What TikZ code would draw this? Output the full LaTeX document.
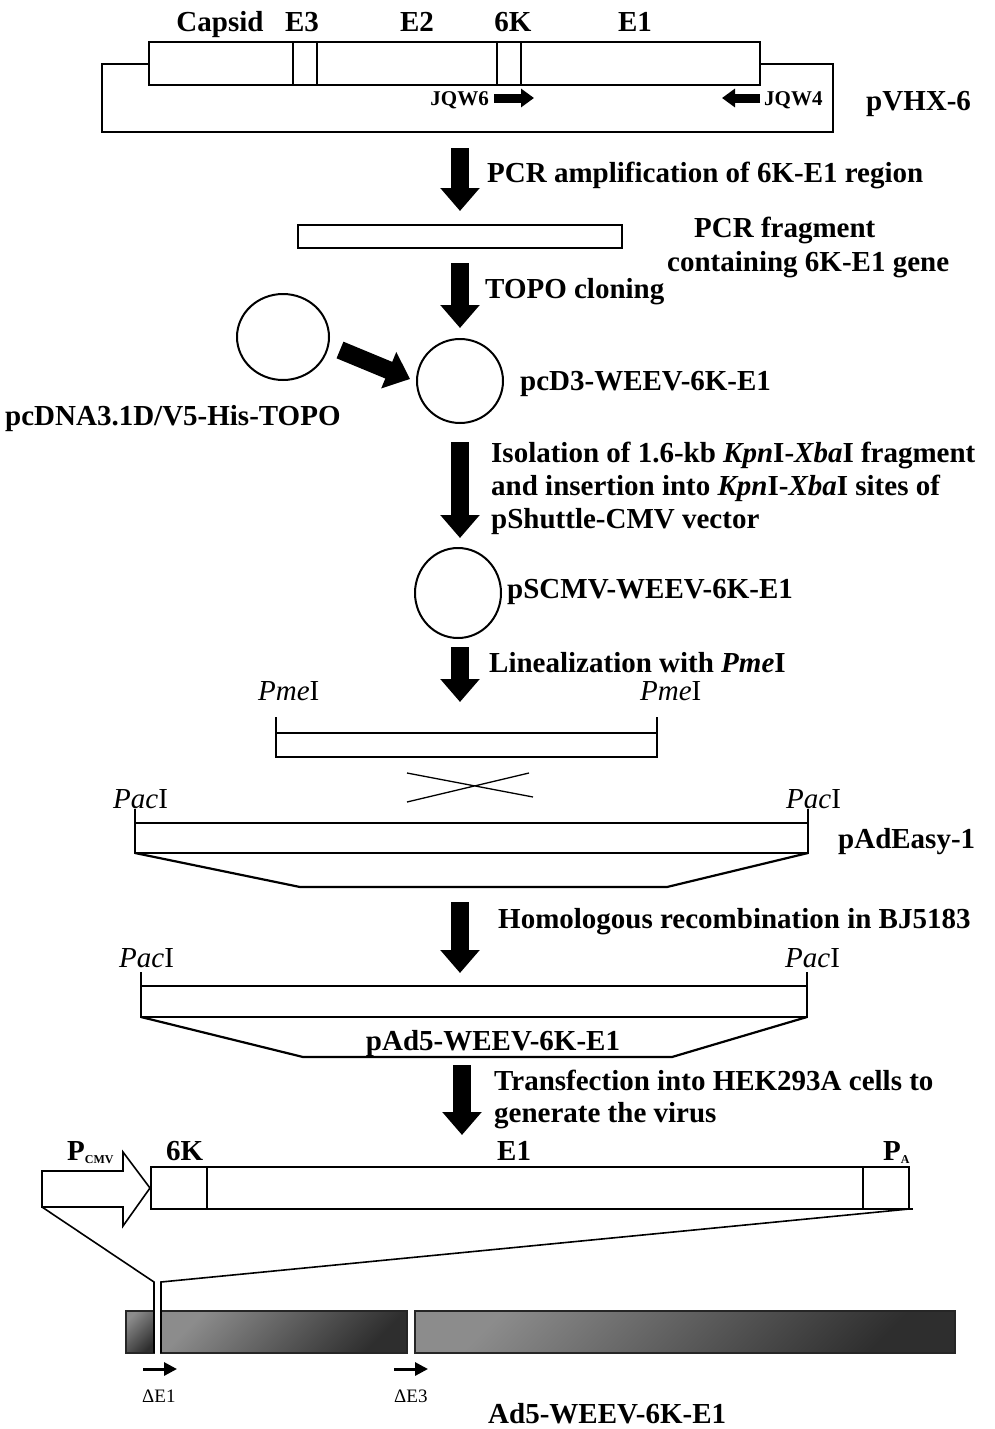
\documentclass[tikz,border=0pt]{standalone}
\usepackage{fontspec}
\setmainfont{Liberation Serif}
\usetikzlibrary{arrows.meta,shapes.geometric}
\begin{document}
\begin{tikzpicture}[x=1pt,y=-1pt,
  lbl/.style={font=\fontsize{29}{33}\selectfont\bfseries, inner sep=0pt, anchor=base west},
  clbl/.style={font=\fontsize{29}{33}\selectfont\bfseries, inner sep=0pt, anchor=base},
  sml/.style={font=\fontsize{21}{23}\selectfont\bfseries, inner sep=0pt},
  site/.style={font=\fontsize{29}{33}\selectfont, inner sep=0pt, anchor=base west},
  dlt/.style={font=\fontsize{19}{21}\selectfont, inner sep=0pt, anchor=base west},
  bigarrow/.style={line width=18pt, -{Triangle[width=38pt,length=23pt]}},
  midarrow/.style={line width=9pt, -{Triangle[width=18pt,length=13pt]}},
  tinyarrow/.style={line width=3pt, -{Triangle[width=13pt,length=13pt]}},
  box/.style={draw, line width=1.6pt, fill=white},
  ln/.style={line width=1.6pt},
  tln/.style={line width=2.2pt},
  plasmid/.style={draw, ellipse, line width=2pt, inner sep=0pt},
  bar/.style={draw=black!85, line width=1.2pt, top color=black!45, bottom color=black!82, shading angle=45}
]
\useasboundingbox (0,0) rectangle (995,1429);

% ---------- pVHX-6 ----------
\draw[ln] (102,64) rectangle (833,132);
\draw[box] (149,42) rectangle (760,85);
\draw[ln] (293,42) -- (293,85) (317,42) -- (317,85) (497,42) -- (497,85) (521,42) -- (521,85);
\node[clbl] (capsid) at (220,32) {Capsid};
\node[clbl] (le3) at (302,32) {E3};
\node[clbl] (le2) at (417,32) {E2};
\node[clbl] (l6k) at (513,32) {6K};
\node[clbl] (le1) at (635,32) {E1};
\coordinate (j6a) at (494,98); \coordinate (j6b) at (534,98);
\draw[midarrow] (j6a) -- (j6b);
\node[sml, anchor=base east] (jqw6) at (489,105) {JQW6};
\coordinate (j4a) at (760,98); \coordinate (j4b) at (722,98);
\draw[midarrow] (j4a) -- (j4b);
\node[sml, anchor=base west] (jqw4) at (764,105) {JQW4};
\node[lbl] (pvhx) at (866,110) {pVHX-6};

% ---------- PCR ----------
\coordinate (a1s) at (460,148); \coordinate (a1e) at (460,211);
\draw[bigarrow] (a1s) -- (a1e);
\node[lbl] (t1) at (487,182) {PCR amplification of 6K-E1 region};
\draw[box] (298,225) rectangle (622,248);
\node[lbl] (t2a) at (694,237) {PCR fragment};
\node[lbl] (t2b) at (667,271) {containing 6K-E1 gene};
\coordinate (a2s) at (460,263); \coordinate (a2e) at (460,328);
\draw[bigarrow] (a2s) -- (a2e);
\node[lbl] (t3) at (485,298) {TOPO cloning};

% ---------- TOPO ----------
\node[plasmid, minimum width=92pt, minimum height=86pt] (c1) at (283,337) {};
\node[plasmid, minimum width=86pt, minimum height=84pt] (c2) at (460,381) {};
\coordinate (d1) at (340,350); \coordinate (d2) at (410,379);
\draw[bigarrow] (d1) -- (d2);
\node[lbl] (topo) at (5,425) {pcDNA3.1D/V5-His-TOPO};
\node[lbl] (pcd3) at (520,390) {pcD3-WEEV-6K-E1};

% ---------- shuttle ----------
\coordinate (a3s) at (460,442); \coordinate (a3e) at (460,538);
\draw[bigarrow] (a3s) -- (a3e);
\node[lbl] (t4a) at (491,462) {Isolation of 1.6-kb \textit{Kpn}I-\textit{Xba}I fragment};
\node[lbl] (t4b) at (491,495) {and insertion into \textit{Kpn}I-\textit{Xba}I sites of};
\node[lbl] (t4c) at (491,528) {pShuttle-CMV vector};
\node[plasmid, minimum width=86pt, minimum height=90pt] (c3) at (458,593) {};
\node[lbl] (pscmv) at (507,598) {pSCMV-WEEV-6K-E1};

% ---------- linearization ----------
\coordinate (a4s) at (460,647); \coordinate (a4e) at (460,702);
\draw[bigarrow] (a4s) -- (a4e);
\node[lbl] (t5) at (489,672) {Linealization with \textit{Pme}I};
\node[site] (pme1) at (258,700) {\textit{Pme}I};
\node[site] (pme2) at (640,700) {\textit{Pme}I};
\draw[ln] (276,717) -- (276,733) (657,717) -- (657,733);
\draw[box] (276,733) rectangle (657,757);
\draw[line width=1.3pt] (407,773) -- (533,797) (407,802) -- (529,773);

% ---------- pAdEasy-1 ----------
\node[site] (pac1) at (113,808) {\textit{Pac}I};
\node[site] (pac2) at (786,808) {\textit{Pac}I};
\draw[ln] (135,809) -- (135,823) (808,809) -- (808,823);
\draw[box] (135,823) rectangle (808,853);
\draw[tln] (135,853) -- (300,887) -- (667,887) -- (808,853);
\node[lbl] (padeasy) at (838,848) {pAdEasy-1};

% ---------- recombination ----------
\coordinate (a5s) at (460,902); \coordinate (a5e) at (460,973);
\draw[bigarrow] (a5s) -- (a5e);
\node[lbl] (t6) at (498,928) {Homologous recombination in BJ5183};
\node[site] (pac3) at (119,967) {\textit{Pac}I};
\node[site] (pac4) at (785,967) {\textit{Pac}I};
\draw[ln] (141,972) -- (141,986) (807,972) -- (807,986);
\draw[box] (141,986) rectangle (807,1017);
\draw[tln] (141,1017) -- (303,1057) -- (672,1057) -- (807,1017);
\node[clbl] (pad5) at (493,1050) {pAd5-WEEV-6K-E1};

% ---------- transfection ----------
\coordinate (a6s) at (462,1065); \coordinate (a6e) at (462,1135);
\draw[bigarrow] (a6s) -- (a6e);
\node[lbl] (t7a) at (494,1090) {Transfection into HEK293A cells to};
\node[lbl] (t7b) at (494,1122) {generate the virus};

% ---------- expression cassette ----------
\draw[ln, fill=white] (42,1171) -- (123,1171) -- (123,1152) -- (150,1188) -- (123,1226) -- (123,1207) -- (42,1207) -- cycle;
\node[lbl] (pcmv) at (67,1160) {P\raisebox{-3pt}{\fontsize{12}{12}\selectfont CMV}};
\draw[box] (151,1167) rectangle (909,1209);
\draw[ln] (207,1167) -- (207,1209) (863,1167) -- (863,1209) (909,1209) -- (913,1209);
\node[lbl] (k6) at (166,1160) {6K};
\node[lbl] (ke1) at (497,1160) {E1};
\node[lbl] (pa) at (883,1160) {P\raisebox{-3pt}{\fontsize{12}{12}\selectfont A}};

% ---------- Ad5 genome ----------
\path[bar] (126,1311) rectangle (154,1353);
\path[bar] (161,1311) rectangle (407,1353);
\path[bar] (415,1311) rectangle (955,1353);
\draw[ln] (42,1207) -- (154,1282) -- (154,1353);
\draw[ln] (909,1209) -- (161,1282) -- (161,1353);
\coordinate (e1a) at (143,1369); \coordinate (e1b) at (177,1369);
\draw[tinyarrow] (e1a) -- (e1b);
\coordinate (e3a) at (394,1369); \coordinate (e3b) at (428,1369);
\draw[tinyarrow] (e3a) -- (e3b);
\node[dlt] (de1) at (142,1402) {ΔE1};
\node[dlt] (de3) at (394,1402) {ΔE3};
\node[lbl] (ad5) at (488,1423) {Ad5-WEEV-6K-E1};
\end{tikzpicture}
\end{document}
